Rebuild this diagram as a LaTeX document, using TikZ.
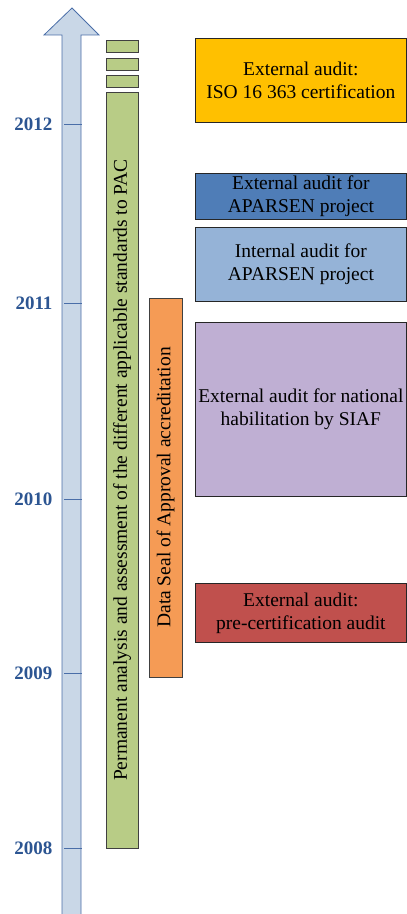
\documentclass[tikz,border=0pt]{standalone}
\usepackage{fontspec}
\setmainfont{Liberation Serif}
\usetikzlibrary{positioning}
\definecolor{axisfill}{HTML}{C9D7E7}
\definecolor{axisline}{HTML}{4A6EA8}
\definecolor{yearblue}{HTML}{2C5592}
\definecolor{pacgreen}{HTML}{B8CC86}
\definecolor{dsaorange}{HTML}{F59B55}
\definecolor{isoyellow}{HTML}{FFC000}
\definecolor{extblue}{HTML}{4F7DB7}
\definecolor{intblue}{HTML}{95B3D7}
\definecolor{siafpurple}{HTML}{BFAFD3}
\definecolor{prered}{HTML}{C0504D}

\begin{document}
\begin{tikzpicture}[
    x=1pt, y=1pt,
    event/.style={rectangle, draw=black!85, line width=0.8pt, anchor=north west, minimum width=211pt, inner sep=0pt, align=center, font=\fontsize{19.5}{23}\selectfont},
    bar/.style={rectangle, draw=black!75, line width=0.8pt, inner sep=0pt, font=\fontsize{19.5}{23}\selectfont},
    year/.style={anchor=east, text=yearblue, font=\fontsize{19}{21}\selectfont\bfseries},
    tick/.style={draw=axisline, line width=0.9pt}
]
\useasboundingbox (0,0) rectangle (407,914);

% time axis
\draw[fill=axisfill, draw=axisline, line width=0.8pt] (62,-5) -- (62,879) -- (44,879) -- (72,906) -- (99,879) -- (81,879) -- (81,-5) -- cycle;
\foreach \yr/\py in {2012/124, 2011/303, 2010/499, 2009/673, 2008/848} {
    \draw[tick] (64,914-\py) -- (82,914-\py);
    \node[year] (y\yr) at (56,914-\py) {\yr};
}

% permanent analysis
\node[bar, fill=pacgreen, minimum width=32pt, minimum height=12pt, anchor=north west] (pac1) at (106,874) {};
\node[bar, fill=pacgreen, minimum width=32pt, minimum height=12pt, anchor=north west] (pac2) at (106,856) {};
\node[bar, fill=pacgreen, minimum width=32pt, minimum height=12pt, anchor=north west] (pac3) at (106,839) {};
\node[bar, fill=pacgreen, rotate=90, minimum width=756pt, minimum height=32pt] (pac) at (122,444) {Permanent analysis and assessment of the different applicable standards to PAC};

% data seal of approval
\node[bar, fill=dsaorange, rotate=90, minimum width=379pt, minimum height=33pt] (dsa) at (165.5,426.5) {Data Seal of Approval accreditation};

% audits
\node[event, fill=isoyellow, minimum height=84pt] (iso) at (195,876) {External audit:\\ISO 16 363 certification};
\node[event, fill=extblue, minimum height=46pt] (extap) at (195,741) {External audit for\\APARSEN project};
\node[event, fill=intblue, minimum height=74pt] (intap) at (195,687) {Internal audit for\\APARSEN project};
\node[event, fill=siafpurple, minimum height=174pt] (siaf) at (195,592) {External audit for national\\habilitation by SIAF};
\node[event, fill=prered, minimum height=59pt] (pre) at (195,331) {External audit:\\pre-certification audit};

\end{tikzpicture}
\end{document}
